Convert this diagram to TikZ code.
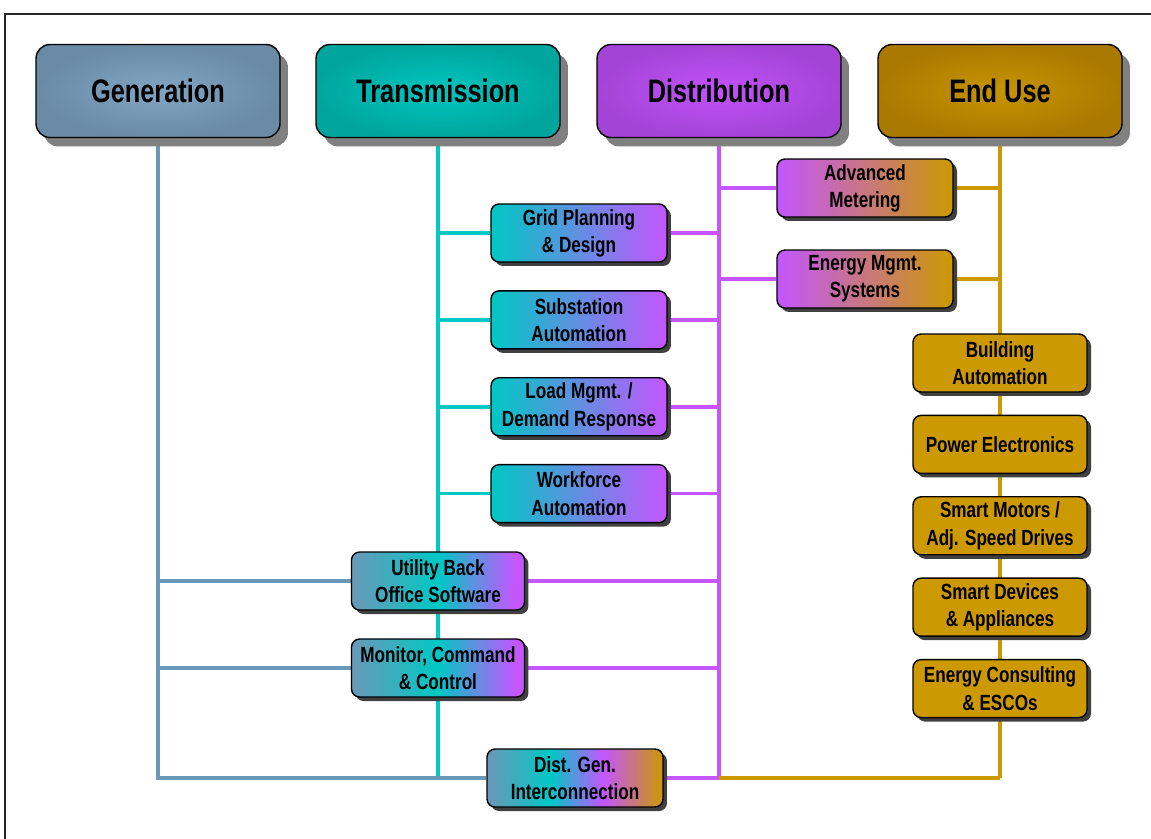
\documentclass[tikz,border=0pt]{standalone}
\usepackage{fontspec}
\setmainfont{Liberation Sans}[FakeStretch=0.85]
\newfontfamily\condfont{Liberation Sans}[FakeStretch=0.78]
\usepackage{tikz}
\usetikzlibrary{positioning, shadows, backgrounds}
\definecolor{genblue}{HTML}{6B98B8}
\definecolor{trteal}{HTML}{00C8C4}
\definecolor{dspurple}{HTML}{C455FF}
\definecolor{eugold}{HTML}{CC9900}
\definecolor{genin}{HTML}{82A6C2}
\definecolor{genout}{HTML}{6A8AA6}
\definecolor{trin}{HTML}{00C6BE}
\definecolor{trout}{HTML}{00A69E}
\definecolor{dsin}{HTML}{C252FA}
\definecolor{dsout}{HTML}{A444D6}
\definecolor{euin}{HTML}{C89400}
\definecolor{euout}{HTML}{AA7A00}
\pgfdeclarehorizontalshading{gtdshade}{100bp}{color(0bp)=(genblue); color(25bp)=(genblue); color(50bp)=(trteal); color(72bp)=(dspurple); color(100bp)=(dspurple)}
\pgfdeclarehorizontalshading{gtdeshade}{100bp}{color(0bp)=(genblue); color(25bp)=(genblue); color(43bp)=(trteal); color(58bp)=(dspurple); color(75bp)=(eugold); color(100bp)=(eugold)}

\begin{document}
\begin{tikzpicture}[
        x=0.02cm, y=-0.02cm,
        node distance=0.55cm,
        head/.style={draw=black,line width=0.8pt,rounded corners=0.28cm,
            minimum width=4.88cm,minimum height=1.86cm,
            font=\condfont\fontsize{18.5}{22}\selectfont\bfseries,
            drop shadow={shadow xshift=0.16cm,shadow yshift=-0.18cm,fill=black!50,opacity=1}},
        item/.style={draw=black,line width=0.8pt,rounded corners=0.16cm,
            minimum width=3.52cm,minimum height=1.16cm,inner sep=1pt,align=center,
            font=\condfont\fontsize{12.5}{15.5}\selectfont\bfseries,
            drop shadow={shadow xshift=0.08cm,shadow yshift=-0.08cm,fill=black!75,opacity=1}},
        wire/.style={line width=2pt}
    ]
    \useasboundingbox (0,0) rectangle (1151,838);
    \draw[line width=1.1pt,black!85] (5,14) rectangle (1170,860);
    % the four columns
    \node[head,inner color=genin,outer color=genout] (gen) at (158,91) {Generation};
    \node[head,inner color=trin,outer color=trout] (trans) at (438,91) {Transmission};
    \node[head,inner color=dsin,outer color=dsout] (dist) at (719,91) {Distribution};
    \node[head,inner color=euin,outer color=euout] (enduse) at (1000,91) {End Use};
    % transmission / distribution
    \node[item,left color=trteal,right color=dspurple] (grid) at (579,233) {Grid Planning\\\& Design};
    \node[item,left color=trteal,right color=dspurple,below=of grid] (subst) {Substation\\Automation};
    \node[item,left color=trteal,right color=dspurple,below=of subst] (load) {Load Mgmt. /\\Demand Response};
    \node[item,left color=trteal,right color=dspurple,below=of load] (work) {Workforce\\Automation};
    % distribution / end use
    \node[item,left color=dspurple,right color=eugold] (meter) at (865,188) {Advanced\\Metering};
    \node[item,left color=dspurple,right color=eugold] (ems) at (865,279) {Energy Mgmt.\\Systems};
    % end use
    \node[item,fill=eugold,minimum width=3.48cm] (bldg) at (1000,363) {Building\\Automation};
    \node[item,fill=eugold,minimum width=3.48cm,below=0.44cm of bldg] (power) {Power Electronics};
    \node[item,fill=eugold,minimum width=3.48cm,below=0.44cm of power] (motors) {Smart Motors /\\Adj. Speed Drives};
    \node[item,fill=eugold,minimum width=3.48cm,below=0.44cm of motors] (devices) {Smart Devices\\\& Appliances};
    \node[item,fill=eugold,minimum width=3.48cm,below=0.44cm of devices] (escos) {Energy Consulting\\\& ESCOs};
    % shared
    \node[item,shading=gtdshade,minimum width=3.46cm] (ubo) at (438,581) {Utility Back\\Office Software};
    \node[item,shading=gtdshade,minimum width=3.46cm] (mcc) at (438,668) {Monitor, Command\\\& Control};
    \node[item,shading=gtdeshade] (dg) at (575,778) {Dist. Gen.\\Interconnection};
    \coordinate (genend) at (158,778);
    \coordinate (transend) at (438,778);
    \coordinate (distend) at (719,778);
    \coordinate (euend) at (1000,778);
    \begin{scope}[on background layer]
    \draw[wire,trteal] (trans) -- (transend);
    \draw[wire,genblue] (gen) -- (genend) -- (dg);
    \draw[wire,genblue] (gen |- ubo) -- (ubo);
    \draw[wire,genblue] (gen |- mcc) -- (mcc);
    \foreach \n in {grid,subst,load,work} {
        \draw[wire,trteal] (trans |- \n) -- (\n);
        \draw[wire,dspurple] (\n) -- (dist |- \n);
    }
    \draw[wire,dspurple] (ubo) -- (dist |- ubo);
    \draw[wire,dspurple] (mcc) -- (dist |- mcc);
    \draw[wire,dspurple] (dist) -- (distend);
    \draw[wire,dspurple] (dg) -- (distend);
    \foreach \n in {meter,ems} {
        \draw[wire,dspurple] (dist |- \n) -- (\n);
        \draw[wire,eugold] (\n) -- (enduse |- \n);
    }
    \draw[wire,eugold] (enduse) -- (euend);
    \draw[wire,eugold] (distend) -- (euend);
    \end{scope}
\end{tikzpicture}
\end{document}
